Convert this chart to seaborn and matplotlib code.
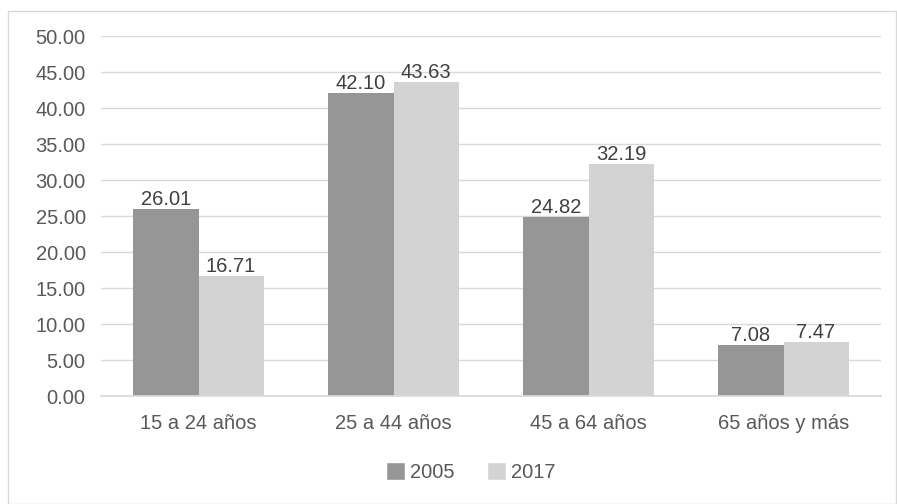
import matplotlib
matplotlib.use("Agg")
import matplotlib.pyplot as plt
import seaborn as sns
import pandas as pd
from matplotlib.patches import Rectangle

categories = ["15 a 24 años", "25 a 44 años", "45 a 64 años", "65 años y más"]
series_names = ["2005", "2017"]
values_2005 = [26.01, 42.10, 24.82, 7.08]
values_2017 = [16.71, 43.63, 32.19, 7.47]
y_ticks = [0, 5, 10, 15, 20, 25, 30, 35, 40, 45, 50]

df = pd.DataFrame({
    "cat": categories * 2,
    "year": [series_names[0]] * 4 + [series_names[1]] * 4,
    "val": values_2005 + values_2017,
})

sns.set_theme(style="white")
plt.rcParams['font.family'] = ['Liberation Sans', 'DejaVu Sans']
text_color = "#595959"
fs = 14.5

fig = plt.figure(figsize=(8.97, 5.04), dpi=100)
ax = fig.add_axes([101/897, 108/504, 780/897, 360/504])

colors = ["#969696", "#d3d3d3"]
sns.barplot(data=df, x="cat", y="val", hue="year", palette=colors, ax=ax,
            width=0.667, saturation=1, gap=0, legend=True)

for container in ax.containers:
    for p in container.patches:
        p.set_edgecolor("none")
    ax.bar_label(container, labels=[f"{v:.2f}" for v in container.datavalues],
                 padding=0, color="#404040", fontsize=fs)

ax.set_ylim(0, 50)
ax.set_yticks(y_ticks)
ax.set_yticklabels([f"{t:.2f}" for t in y_ticks])
ax.set_xlim(-0.5, 3.5)
ax.set_xlabel("")
ax.set_ylabel("")
ax.grid(axis="y", color="#d9d9d9", linewidth=1)
ax.set_axisbelow(True)
for s in ["top", "right", "left"]:
    ax.spines[s].set_visible(False)
ax.spines["bottom"].set_color("#d9d9d9")
ax.tick_params(axis="both", length=0, colors=text_color, labelsize=fs)
ax.tick_params(axis="x", pad=13)
ax.tick_params(axis="y", pad=11)

leg = ax.legend(loc="center", bbox_to_anchor=(471/897, 32/504),
                bbox_transform=fig.transFigure, ncol=2, frameon=False,
                fontsize=fs, handlelength=0.95, handleheight=0.95,
                handletextpad=0.25, columnspacing=1.6)
for t in leg.get_texts():
    t.set_color(text_color)

fig.patches.append(Rectangle((8/897, 0.5/504), 888/897, 493/504,
                             transform=fig.transFigure, fill=False,
                             edgecolor="#d9d9d9", linewidth=1))

fig.savefig("out.png", dpi=100)
